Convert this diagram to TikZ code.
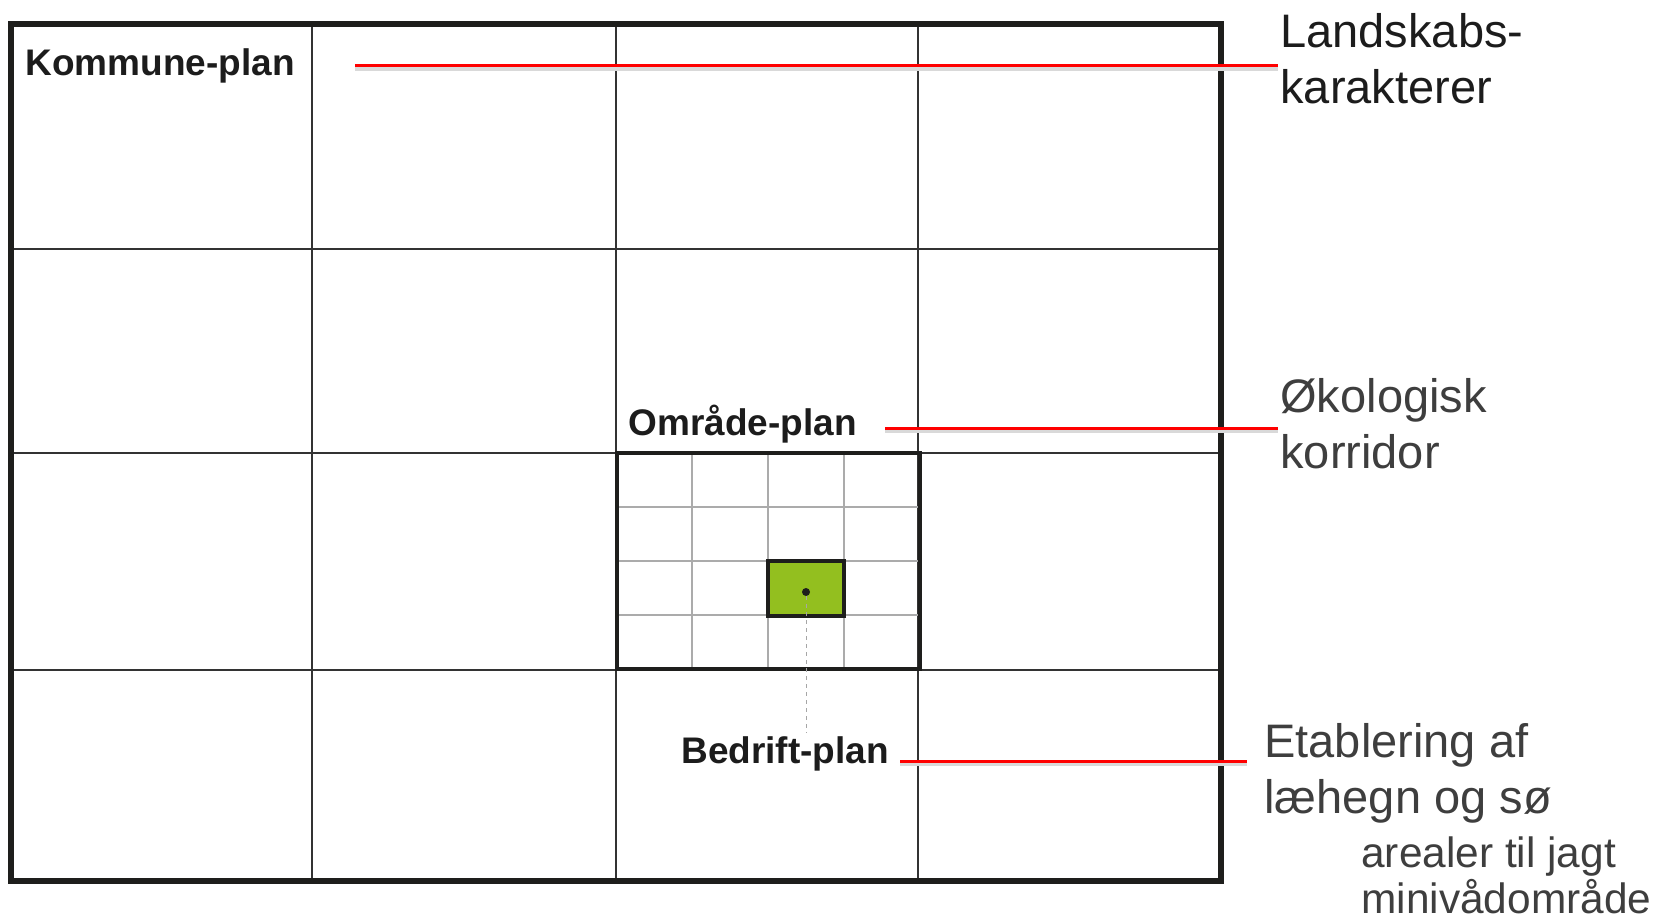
\documentclass[tikz,border=0pt]{standalone}
\usepackage{fontspec}
\setmainfont{Liberation Sans}

\definecolor{frameblack}{HTML}{1E1E1C}
\definecolor{gridgray}{HTML}{333333}
\definecolor{finegray}{HTML}{ABABAB}
\definecolor{farmgreen}{HTML}{93BF1F}
\definecolor{txtdark}{HTML}{1C1C1C}
\definecolor{txtgray}{HTML}{3E3E3E}

\begin{document}
\begin{tikzpicture}[
    x=0.5pt, y=-0.5pt,
    frame/.style={draw=frameblack, line width=3.3pt},
    gridline/.style={draw=gridgray, line width=1pt},
    fineline/.style={draw=finegray, line width=0.6pt},
    areabox/.style={draw=frameblack, line width=2.3pt},
    farm/.style={
        draw=frameblack,
        line width=2.3pt,
        fill=farmgreen,
        minimum width=38pt,
        minimum height=27.5pt,
        inner sep=0pt
    },
    pinmark/.style={circle, fill=frameblack, minimum size=4pt, inner sep=0pt},
    leader/.style={draw=gray!70, line width=0.5pt, dash pattern=on 2pt off 2pt},
    planlbl/.style={
        anchor=base west,
        inner sep=0pt,
        text=txtdark,
        font=\fontsize{18.5}{22}\selectfont\bfseries
    },
    sidelbl/.style={
        anchor=base west,
        inner sep=0pt,
        align=left,
        text=txtgray,
        font=\fontsize{23.5}{28}\selectfont
    },
    redline/.style={
        draw=red, line width=1.5pt,
        preaction={draw=black!15, line width=2pt, transform canvas={yshift=-1.5pt}}
    }
]
    \useasboundingbox (0,0) rectangle (1658,922);

    % kommune
    \foreach \x in {312,616,918}
        \draw[gridline] (\x,24) -- (\x,881);
    \foreach \y in {249,453,670}
        \draw[gridline] (11,\y) -- (1221,\y);
    \draw[frame] (11,24) rectangle (1221,881);

    % omraade
    \foreach \x in {692,768,844}
        \draw[fineline] (\x,453) -- (\x,669);
    \foreach \y in {507,561,615}
        \draw[fineline] (617,\y) -- (920,\y);
    \draw[areabox] (617,453) rectangle (920,669);

    % bedrift
    \node[farm] (farm) at (806,588.5) {};
    \node[pinmark] (pin) at (806,592) {};
    \coordinate (pinend) at (806,733);
    \draw[leader] (pin) -- (pinend);

    \node[planlbl] (kom) at (25,75) {Kommune-plan};
    \node[planlbl] (omr) at (628,435) {Område-plan};
    \node[planlbl] (bed) at (681,763) {Bedrift-plan};

    % base = last line
    \node[sidelbl, text=txtdark] (land) at (1280,103)
        {Landskabs-\\karakterer};
    \node[sidelbl] (oko) at (1280,468)
        {Økologisk\\korridor};
    \node[sidelbl] (etab) at (1264,813)
        {Etablering af\\læhegn og sø};
    \node[sidelbl, font=\fontsize{21.2}{23}\selectfont] (jagt) at (1361,913)
        {arealer til jagt\\minivådområde};

    \coordinate (k0) at (355,65.5);
    \coordinate (o0) at (885,428);
    \coordinate (b0) at (900,761);
    \draw[redline] (k0) -- ([xshift=-1pt]k0 -| land.west);
    \draw[redline] (o0) -- ([xshift=-1pt]o0 -| oko.west);
    \draw[redline] (b0) -- ([xshift=-8.5pt]b0 -| etab.west);
\end{tikzpicture}
\end{document}
